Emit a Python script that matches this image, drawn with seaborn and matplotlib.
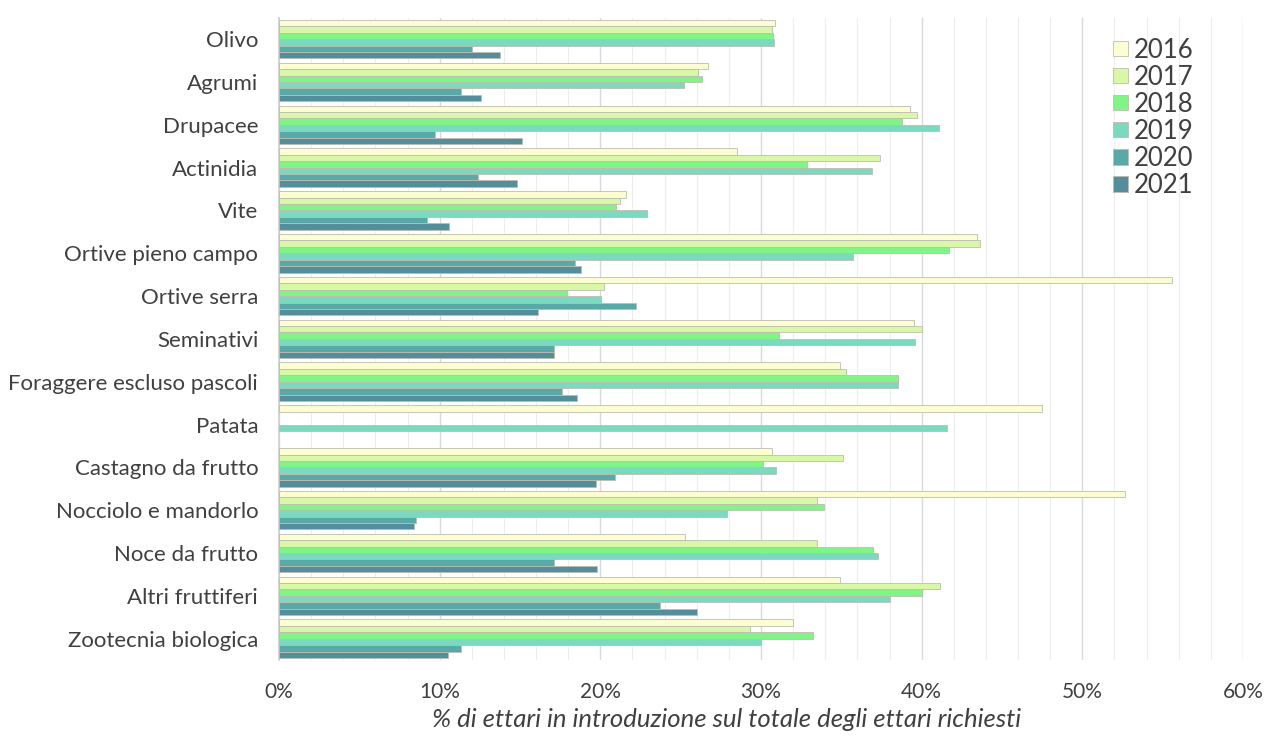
import matplotlib
matplotlib.use("Agg")
import matplotlib.pyplot as plt
import seaborn as sns
import pandas as pd
import numpy as np
from matplotlib.ticker import MultipleLocator, FuncFormatter

categories = ["Olivo", "Agrumi", "Drupacee", "Actinidia", "Vite",
              "Ortive pieno campo", "Ortive serra", "Seminativi",
              "Foraggere escluso pascoli", "Patata", "Castagno da frutto",
              "Nocciolo e mandorlo", "Noce da frutto", "Altri fruttiferi",
              "Zootecnia biologica"]
years = ["2016", "2017", "2018", "2019", "2020", "2021"]

v2016 = [30.9, 26.7, 39.25, 28.5, 21.6, 43.45, 55.6, 39.5, 34.9, 47.5, 30.7, 52.65, 25.3, 34.9, 32.0]
v2017 = [30.7, 26.05, 39.7, 37.4, 21.2, 43.65, 20.25, 40.0, 35.3, np.nan, 35.1, 33.5, 33.5, 41.15, 29.3]
v2018 = [30.75, 26.3, 38.8, 32.85, 20.95, 41.7, 17.95, 31.1, 38.5, np.nan, 30.1, 33.9, 37.0, 40.0, 33.25]
v2019 = [30.8, 25.2, 41.05, 36.9, 22.9, 35.75, 20.05, 39.6, 38.55, 41.6, 30.95, 27.9, 37.3, 38.05, 30.0]
v2020 = [12.0, 11.35, 9.7, 12.4, 9.2, 18.4, 22.2, 17.1, 17.6, np.nan, 20.9, 8.5, 17.1, 23.7, 11.35]
v2021 = [13.75, 12.6, 15.15, 14.8, 10.6, 18.8, 16.1, 17.1, 18.55, np.nan, 19.75, 8.4, 19.8, 26.0, 10.5]

colors = ["#FDFDD2", "#D8F8A8", "#80F487", "#7BD9BF", "#59A9A7", "#548E9C"]

series = [v2016, v2017, v2018, v2019, v2020, v2021]
rows = []
for y, vals in zip(years, series):
    for c, v in zip(categories, vals):
        if not np.isnan(v):
            rows.append({"cat": c, "year": y, "val": v})
df = pd.DataFrame(rows)

sns.set_theme(style="white")
plt.rcParams['font.family'] = ['Lato', 'DejaVu Sans']

fig = plt.figure(figsize=(12.66, 7.4), dpi=100)
ax = fig.add_axes([0.2204, 0.108, 0.7614, 0.868])

sns.barplot(data=df, y="cat", x="val", hue="year", order=categories,
            hue_order=years, palette=colors, saturation=1, orient="h",
            errorbar=None, width=0.9, edgecolor="#BDBDB0", linewidth=0.6,
            ax=ax, zorder=3)

ax.set_xlim(0, 60)
ax.xaxis.set_major_locator(MultipleLocator(10))
ax.xaxis.set_minor_locator(MultipleLocator(2))
ax.xaxis.set_major_formatter(FuncFormatter(lambda v, p: f"{int(round(v))}%"))
ax.grid(axis="x", which="major", color="#D9D9D9", linewidth=1.0, zorder=0)
ax.grid(axis="x", which="minor", color="#EDEDED", linewidth=0.8, zorder=0)
ax.set_axisbelow(True)
for s in ["top", "right", "bottom"]:
    ax.spines[s].set_visible(False)
ax.spines["left"].set_color("#D0D0D0")
ax.tick_params(axis="both", which="both", length=0, colors="#404040")
ax.tick_params(axis="y", labelsize=16, pad=15)
ax.tick_params(axis="x", labelsize=15, pad=16)
ax.set_ylabel("")
ax.set_xlabel("% di ettari in introduzione sul totale degli ettari richiesti",
              fontsize=18.5, style="italic", color="#404040", labelpad=6)
ax.xaxis.set_label_coords(0.464, -0.075)

leg = ax.legend(loc="upper left", bbox_to_anchor=(0.855, 0.985), frameon=False,
                fontsize=18.5, handlelength=0.55, handleheight=0.55,
                handletextpad=0.25, labelspacing=0.08, borderaxespad=0)
for t in leg.get_texts():
    t.set_color("#404040")

fig.savefig("out.png", dpi=100, facecolor="white")
